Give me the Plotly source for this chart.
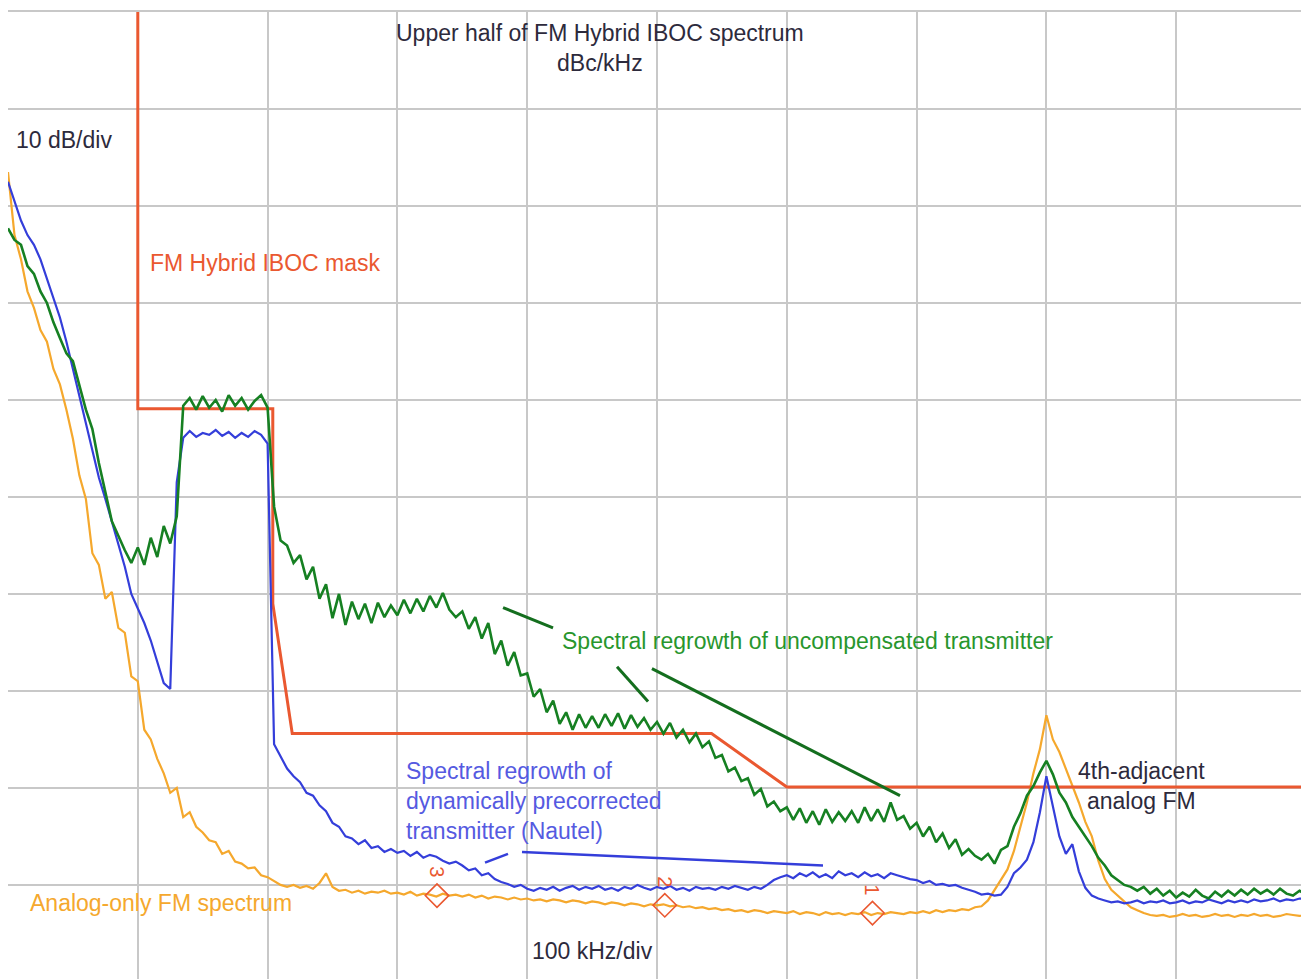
import plotly.graph_objects as go

# Frequency bins (kHz offset from carrier), 5 kHz sweep points
freq_khz = list(range(0, 1001, 5))

green_uncomp_db = [
    -22.3, -23.5, -24.0, -26.2, -27.0, -28.8, -30.0, -32.0, -33.6, -35.2,
    -36.0, -38.4, -41.0, -43.0, -46.5, -49.5, -52.5, -54.0, -55.5, -56.8,
    -55.2, -57.0, -54.2, -56.2, -53.0, -54.8, -52.0, -40.6, -39.8, -41.0,
    -39.6, -40.8, -40.0, -41.2, -39.5, -40.6, -39.8, -41.0, -40.1, -39.5,
    -40.8, -51.0, -54.5, -55.0, -56.8, -56.0, -58.5, -57.2, -60.5, -59.0,
    -62.5, -60.0, -63.2, -60.8, -62.6, -61.0, -63.0, -60.9, -62.4, -61.2,
    -62.2, -60.6, -62.0, -60.5, -61.8, -60.2, -61.4, -59.9, -61.6, -62.4,
    -61.8, -63.6, -62.4, -64.6, -63.0, -66.2, -64.8, -67.4, -66.0, -68.4,
    -68.2, -70.6, -69.8, -72.2, -71.0, -73.4, -72.2, -74.0, -72.4, -73.8,
    -72.6, -73.8, -72.4, -73.6, -72.3, -73.9, -72.5, -73.7, -72.8, -74.0,
    -73.2, -74.4, -73.3, -74.8, -74.0, -75.3, -74.4, -75.8, -75.2, -76.9,
    -76.6, -78.3, -77.9, -79.3, -79.0, -80.7, -80.1, -81.9, -81.4, -82.4,
    -82.0, -83.3, -82.1, -83.6, -82.4, -83.8, -82.2, -83.5, -82.5, -83.4,
    -82.4, -83.6, -82.0, -83.4, -82.2, -83.5, -81.5, -83.3, -82.9, -84.2,
    -83.6, -85.0, -84.0, -85.6, -84.7, -86.2, -85.3, -86.9, -86.3, -87.0,
    -87.4, -86.8, -87.8, -86.4, -86.0, -84.0, -82.6, -80.8, -79.8, -78.4,
    -77.2, -78.6, -80.5, -81.5, -83.0, -84.0, -85.0, -86.0, -87.2, -88.0,
    -89.0, -89.5, -90.0, -90.2, -90.6, -90.2, -90.9, -90.4, -91.1, -90.6,
    -91.3, -90.8, -91.2, -90.5, -91.1, -91.4, -90.7, -91.2, -90.6, -91.1,
    -90.5, -91.0, -90.4, -90.9, -90.5, -91.0, -90.4, -90.9, -91.1, -90.6,
    -91.0,
]

blue_nautel_db = [
    -17.5, -19.5, -21.5, -23.0, -24.0, -25.5, -27.5, -29.5, -31.5, -34.0,
    -36.8, -39.5, -42.5, -45.0, -48.0, -50.2, -52.5, -55.0, -57.2, -60.0,
    -61.5, -63.0, -64.8, -67.0, -69.2, -69.8, -48.5, -43.9, -43.2, -43.8,
    -43.4, -43.6, -43.1, -43.7, -43.3, -43.9, -43.4, -43.8, -43.2, -43.6,
    -44.5, -75.5, -76.8, -78.0, -78.8, -79.4, -80.5, -80.8, -81.8, -82.4,
    -83.6, -84.0, -85.0, -85.2, -85.8, -85.4, -86.2, -86.0, -86.6, -86.3,
    -86.7, -86.5, -87.0, -86.6, -87.2, -86.9, -87.1, -87.5, -87.8, -87.6,
    -88.0, -88.5, -88.3, -89.0, -88.8, -89.4, -89.7, -89.9, -90.2, -90.0,
    -90.4, -90.6, -90.3, -90.5, -90.2, -90.6, -90.3, -90.1, -90.5, -90.2,
    -90.4, -90.1, -90.5, -90.3, -90.6, -90.2, -90.4, -90.0, -90.3, -90.5,
    -90.2, -90.4, -90.1, -90.5, -90.3, -90.6, -90.2, -90.4, -90.3, -90.5,
    -90.2, -90.4, -90.1, -90.3, -90.5, -90.2, -90.4, -90.0, -89.5, -89.2,
    -89.0, -89.3, -88.8, -89.1, -88.7, -89.2, -88.9, -89.3, -88.6, -89.0,
    -88.8, -89.2, -88.7, -89.1, -88.9, -89.3, -88.8, -89.0, -89.2, -89.4,
    -89.5, -89.8, -89.6, -90.0, -89.9, -90.1, -90.0, -90.3, -90.5, -90.7,
    -91.0, -90.9, -91.1, -91.0, -90.2, -88.8, -88.2, -87.4, -85.6, -82.5,
    -78.8, -82.0, -85.0, -86.8, -85.8, -88.6, -90.3, -91.1, -91.4, -91.6,
    -91.8, -91.7, -91.9, -91.8, -91.6, -91.9, -91.7, -91.8, -91.6, -91.9,
    -91.8, -91.6, -91.9, -91.7, -91.8, -91.5, -91.7, -91.9, -91.6, -91.8,
    -91.6, -91.8, -91.5, -91.7, -91.6, -91.4, -91.7, -91.5, -91.6, -91.4,
    -91.5,
]

orange_analog_db = [
    -16.5, -23.0, -25.5, -28.8, -30.5, -32.8, -34.0, -36.8, -38.4, -41.0,
    -44.0, -47.8, -50.2, -55.8, -57.0, -60.5, -59.8, -63.5, -64.0, -68.5,
    -69.0, -74.0, -75.0, -77.0, -78.5, -80.5, -80.0, -83.0, -82.5, -84.0,
    -84.6, -85.4, -85.6, -86.8, -86.5, -87.6, -87.8, -88.3, -88.2, -89.0,
    -89.2, -89.6, -90.0, -90.2, -90.0, -90.3, -90.1, -90.4, -89.8, -88.8,
    -90.2, -90.6, -90.5, -90.8, -90.6, -90.9, -90.7, -90.8, -90.6, -90.9,
    -90.8, -91.0, -90.7, -91.1, -90.9, -91.0, -91.2, -90.9, -91.1, -91.0,
    -91.2, -91.0, -91.3, -91.1, -91.4, -91.2, -91.3, -91.5, -91.3, -91.5,
    -91.4, -91.6, -91.5, -91.7, -91.5, -91.6, -91.8, -91.6, -91.7, -91.9,
    -91.7, -91.8, -92.0, -91.8, -91.9, -92.1, -91.9, -92.0, -92.2, -92.0,
    -92.1, -92.0, -92.2, -92.1, -92.3, -92.2, -92.4, -92.3, -92.5, -92.4,
    -92.6, -92.5, -92.7, -92.6, -92.8, -92.6, -92.7, -92.9, -92.7, -92.8,
    -92.9, -92.7, -93.0, -92.8, -92.9, -93.1, -92.8, -93.0, -92.9, -93.1,
    -92.9, -93.0, -92.8, -93.1, -92.9, -93.0, -92.8, -92.9, -93.0, -92.8,
    -92.9, -92.7, -92.9, -92.6, -92.8, -92.6, -92.7, -92.5, -92.6, -92.3,
    -92.2, -91.6, -90.5, -89.5, -88.4, -86.5, -84.0, -81.5, -78.5, -76.0,
    -72.5, -75.0, -76.3, -78.0, -79.7, -81.5, -83.5, -85.0, -87.5, -89.4,
    -90.5, -91.1, -91.8, -92.3, -92.6, -92.9, -93.1, -93.2, -93.1, -93.3,
    -93.2, -93.0, -93.2, -93.1, -93.3, -93.2, -93.0, -93.2, -93.1, -93.3,
    -93.1, -93.2, -93.0, -93.2, -93.1, -93.3, -93.2, -93.0, -93.1, -93.2,
    -93.1,
]

# FM Hybrid IBOC emission mask
mask_khz = [100, 100, 204, 204, 219, 542, 600, 1000]
mask_db = [0, -40.9, -40.9, -61.0, -74.4, -74.4, -79.9, -79.9]

# Analyzer markers
marker_khz = [330.5, 506, 666]
marker_db = [-91.1, -92.1, -92.9]
marker_labels = ["3", "2", "1"]

GREEN = "rgb(22,128,34)"
BLUE = "rgb(52,62,218)"
ORANGE = "rgb(245,168,45)"
RED = "rgb(234,88,48)"
FONT = "Liberation Sans, Arial, sans-serif"

fig = go.Figure()
fig.add_trace(go.Scatter(x=freq_khz, y=orange_analog_db, mode="lines",
                         line=dict(color=ORANGE, width=2.2), hoverinfo="skip"))
fig.add_trace(go.Scatter(x=mask_khz, y=mask_db, mode="lines",
                         line=dict(color=RED, width=3), hoverinfo="skip"))
fig.add_trace(go.Scatter(x=freq_khz, y=blue_nautel_db, mode="lines",
                         line=dict(color=BLUE, width=2.2), hoverinfo="skip"))
fig.add_trace(go.Scatter(x=freq_khz, y=green_uncomp_db, mode="lines",
                         line=dict(color=GREEN, width=2.6), hoverinfo="skip"))
fig.add_trace(go.Scatter(x=marker_khz, y=marker_db, mode="markers",
                         marker=dict(symbol="diamond-open", size=18, color=RED,
                                     line=dict(width=1.6, color=RED)),
                         hoverinfo="skip"))

# pointer lines
green_ptrs = [((381.4, -61.4), (419.9, -63.5)),
              ((469.2, -67.5), (493.1, -71.1)),
              ((496.1, -67.7), (687.2, -80.8))]
for (x0, y0), (x1, y1) in green_ptrs:
    fig.add_shape(type="line", x0=x0, y0=y0, x1=x1, y1=y1,
                  line=dict(color="rgb(20,110,30)", width=3))
blue_ptrs = [((367.5, -87.7), (385.2, -86.8)),
             ((396.0, -86.6), (627.9, -88.0))]
for (x0, y0), (x1, y1) in blue_ptrs:
    fig.add_shape(type="line", x0=x0, y0=y0, x1=x1, y1=y1,
                  line=dict(color=BLUE, width=2.5))

def txt(x, y, s, color, xanchor="left", align="left", size=23):
    fig.add_annotation(x=x, y=y, text=s, showarrow=False, xanchor=xanchor,
                       yanchor="middle", align=align,
                       font=dict(family=FONT, size=size, color=color))

DARK = "rgb(45,42,60)"
txt(456, -3.7, "Upper half of FM Hybrid IBOC spectrum<br>dBc/kHz", DARK,
    xanchor="center", align="center")
txt(4.6, -13.2, "10 dB/div", DARK)
txt(107.9, -25.9, "FM Hybrid IBOC mask", RED)
txt(425.3, -64.9, "Spectral regrowth of uncompensated transmitter", "rgb(40,150,45)")
txt(305.0, -81.3, "Spectral regrowth of<br>dynamically precorrected<br>transmitter (Nautel)",
    "rgb(85,90,225)")
txt(15.4, -91.9, "Analog-only FM spectrum", ORANGE)
txt(873.0, -79.8, "4th-adjacent<br>analog FM", DARK, xanchor="center", align="center")
txt(402.0, -96.8, "100 kHz/div", DARK)

for mx, my, lab in zip(marker_khz, marker_db, marker_labels):
    fig.add_annotation(x=mx, y=my + 2.4, text=lab, showarrow=False, textangle=90,
                       font=dict(family=FONT, size=20, color=RED))

GRID = "rgb(200,200,200)"
# page body has an 8 px margin, so the figure is offset by 8 px
fig.update_layout(
    width=1301, height=971,
    margin=dict(l=0, r=3, t=4, b=0),
    paper_bgcolor="white", plot_bgcolor="white",
    showlegend=False,
    xaxis=dict(range=[0, 1000], dtick=100, tick0=0, showgrid=True, gridcolor=GRID,
               gridwidth=2, showticklabels=False, ticks="", zeroline=False,
               showline=True, mirror=True, linecolor=GRID, linewidth=2),
    yaxis=dict(range=[-99.7, 0], dtick=10, tick0=0, showgrid=True, gridcolor=GRID,
               gridwidth=2, showticklabels=False, ticks="", zeroline=False,
               showline=True, mirror=True, linecolor=GRID, linewidth=2),
)

fig.write_html("out.html", config={"displayModeBar": False})
